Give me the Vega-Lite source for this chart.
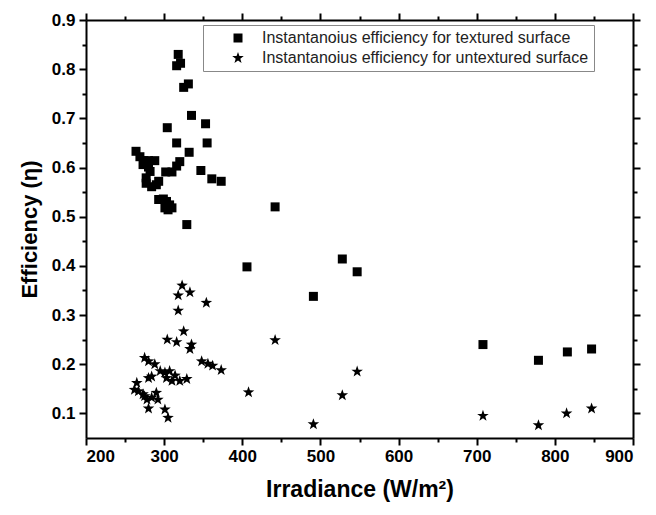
{
  "$schema": "https://vega.github.io/schema/vega-lite/v6.json",
  "width": 547,
  "height": 418,
  "autosize": "none",
  "padding": {"left": 86, "top": 20, "right": 23, "bottom": 77},
  "background": "white",
  "config": {
    "view": {"stroke": null},
    "font": "Liberation Sans",
    "axis": {
      "grid": false,
      "domainColor": "black",
      "domainWidth": 2,
      "tickColor": "black",
      "tickWidth": 2,
      "labelFont": "Liberation Sans",
      "labelFontWeight": "bold",
      "labelFontSize": 17,
      "labelColor": "black",
      "titleFont": "Liberation Sans",
      "titleFontWeight": "bold",
      "titleColor": "black"
    }
  },
  "data": {
    "values": [
      {"irradiance": 264, "efficiency": 0.633, "series": "Instantanoius efficiency for textured surface"},
      {"irradiance": 269, "efficiency": 0.622, "series": "Instantanoius efficiency for textured surface"},
      {"irradiance": 274, "efficiency": 0.614, "series": "Instantanoius efficiency for textured surface"},
      {"irradiance": 273, "efficiency": 0.606, "series": "Instantanoius efficiency for textured surface"},
      {"irradiance": 280, "efficiency": 0.614, "series": "Instantanoius efficiency for textured surface"},
      {"irradiance": 288, "efficiency": 0.614, "series": "Instantanoius efficiency for textured surface"},
      {"irradiance": 280, "efficiency": 0.601, "series": "Instantanoius efficiency for textured surface"},
      {"irradiance": 282, "efficiency": 0.592, "series": "Instantanoius efficiency for textured surface"},
      {"irradiance": 277, "efficiency": 0.579, "series": "Instantanoius efficiency for textured surface"},
      {"irradiance": 277, "efficiency": 0.568, "series": "Instantanoius efficiency for textured surface"},
      {"irradiance": 284, "efficiency": 0.561, "series": "Instantanoius efficiency for textured surface"},
      {"irradiance": 290, "efficiency": 0.565, "series": "Instantanoius efficiency for textured surface"},
      {"irradiance": 293, "efficiency": 0.572, "series": "Instantanoius efficiency for textured surface"},
      {"irradiance": 293, "efficiency": 0.535, "series": "Instantanoius efficiency for textured surface"},
      {"irradiance": 299, "efficiency": 0.536, "series": "Instantanoius efficiency for textured surface"},
      {"irradiance": 303, "efficiency": 0.531, "series": "Instantanoius efficiency for textured surface"},
      {"irradiance": 307, "efficiency": 0.524, "series": "Instantanoius efficiency for textured surface"},
      {"irradiance": 305, "efficiency": 0.514, "series": "Instantanoius efficiency for textured surface"},
      {"irradiance": 310, "efficiency": 0.518, "series": "Instantanoius efficiency for textured surface"},
      {"irradiance": 301, "efficiency": 0.518, "series": "Instantanoius efficiency for textured surface"},
      {"irradiance": 302, "efficiency": 0.591, "series": "Instantanoius efficiency for textured surface"},
      {"irradiance": 310, "efficiency": 0.591, "series": "Instantanoius efficiency for textured surface"},
      {"irradiance": 316, "efficiency": 0.603, "series": "Instantanoius efficiency for textured surface"},
      {"irradiance": 320, "efficiency": 0.612, "series": "Instantanoius efficiency for textured surface"},
      {"irradiance": 332, "efficiency": 0.631, "series": "Instantanoius efficiency for textured surface"},
      {"irradiance": 316, "efficiency": 0.650, "series": "Instantanoius efficiency for textured surface"},
      {"irradiance": 304, "efficiency": 0.681, "series": "Instantanoius efficiency for textured surface"},
      {"irradiance": 318, "efficiency": 0.830, "series": "Instantanoius efficiency for textured surface"},
      {"irradiance": 321, "efficiency": 0.812, "series": "Instantanoius efficiency for textured surface"},
      {"irradiance": 316, "efficiency": 0.807, "series": "Instantanoius efficiency for textured surface"},
      {"irradiance": 331, "efficiency": 0.770, "series": "Instantanoius efficiency for textured surface"},
      {"irradiance": 325, "efficiency": 0.763, "series": "Instantanoius efficiency for textured surface"},
      {"irradiance": 335, "efficiency": 0.706, "series": "Instantanoius efficiency for textured surface"},
      {"irradiance": 353, "efficiency": 0.689, "series": "Instantanoius efficiency for textured surface"},
      {"irradiance": 355, "efficiency": 0.650, "series": "Instantanoius efficiency for textured surface"},
      {"irradiance": 347, "efficiency": 0.594, "series": "Instantanoius efficiency for textured surface"},
      {"irradiance": 361, "efficiency": 0.577, "series": "Instantanoius efficiency for textured surface"},
      {"irradiance": 373, "efficiency": 0.572, "series": "Instantanoius efficiency for textured surface"},
      {"irradiance": 329, "efficiency": 0.484, "series": "Instantanoius efficiency for textured surface"},
      {"irradiance": 442, "efficiency": 0.520, "series": "Instantanoius efficiency for textured surface"},
      {"irradiance": 406, "efficiency": 0.398, "series": "Instantanoius efficiency for textured surface"},
      {"irradiance": 491, "efficiency": 0.338, "series": "Instantanoius efficiency for textured surface"},
      {"irradiance": 528, "efficiency": 0.414, "series": "Instantanoius efficiency for textured surface"},
      {"irradiance": 547, "efficiency": 0.388, "series": "Instantanoius efficiency for textured surface"},
      {"irradiance": 708, "efficiency": 0.240, "series": "Instantanoius efficiency for textured surface"},
      {"irradiance": 779, "efficiency": 0.208, "series": "Instantanoius efficiency for textured surface"},
      {"irradiance": 816, "efficiency": 0.225, "series": "Instantanoius efficiency for textured surface"},
      {"irradiance": 847, "efficiency": 0.231, "series": "Instantanoius efficiency for textured surface"},
      {"irradiance": 323, "efficiency": 0.360, "series": "Instantanoius efficiency for untextured surface"},
      {"irradiance": 318, "efficiency": 0.340, "series": "Instantanoius efficiency for untextured surface"},
      {"irradiance": 333, "efficiency": 0.346, "series": "Instantanoius efficiency for untextured surface"},
      {"irradiance": 354, "efficiency": 0.325, "series": "Instantanoius efficiency for untextured surface"},
      {"irradiance": 318, "efficiency": 0.309, "series": "Instantanoius efficiency for untextured surface"},
      {"irradiance": 325, "efficiency": 0.267, "series": "Instantanoius efficiency for untextured surface"},
      {"irradiance": 304, "efficiency": 0.250, "series": "Instantanoius efficiency for untextured surface"},
      {"irradiance": 316, "efficiency": 0.245, "series": "Instantanoius efficiency for untextured surface"},
      {"irradiance": 335, "efficiency": 0.240, "series": "Instantanoius efficiency for untextured surface"},
      {"irradiance": 333, "efficiency": 0.231, "series": "Instantanoius efficiency for untextured surface"},
      {"irradiance": 348, "efficiency": 0.206, "series": "Instantanoius efficiency for untextured surface"},
      {"irradiance": 356, "efficiency": 0.201, "series": "Instantanoius efficiency for untextured surface"},
      {"irradiance": 362, "efficiency": 0.197, "series": "Instantanoius efficiency for untextured surface"},
      {"irradiance": 373, "efficiency": 0.188, "series": "Instantanoius efficiency for untextured surface"},
      {"irradiance": 275, "efficiency": 0.213, "series": "Instantanoius efficiency for untextured surface"},
      {"irradiance": 280, "efficiency": 0.206, "series": "Instantanoius efficiency for untextured surface"},
      {"irradiance": 288, "efficiency": 0.200, "series": "Instantanoius efficiency for untextured surface"},
      {"irradiance": 295, "efficiency": 0.186, "series": "Instantanoius efficiency for untextured surface"},
      {"irradiance": 280, "efficiency": 0.172, "series": "Instantanoius efficiency for untextured surface"},
      {"irradiance": 284, "efficiency": 0.175, "series": "Instantanoius efficiency for untextured surface"},
      {"irradiance": 301, "efficiency": 0.183, "series": "Instantanoius efficiency for untextured surface"},
      {"irradiance": 307, "efficiency": 0.186, "series": "Instantanoius efficiency for untextured surface"},
      {"irradiance": 303, "efficiency": 0.172, "series": "Instantanoius efficiency for untextured surface"},
      {"irradiance": 310, "efficiency": 0.166, "series": "Instantanoius efficiency for untextured surface"},
      {"irradiance": 320, "efficiency": 0.166, "series": "Instantanoius efficiency for untextured surface"},
      {"irradiance": 329, "efficiency": 0.170, "series": "Instantanoius efficiency for untextured surface"},
      {"irradiance": 314, "efficiency": 0.177, "series": "Instantanoius efficiency for untextured surface"},
      {"irradiance": 265, "efficiency": 0.162, "series": "Instantanoius efficiency for untextured surface"},
      {"irradiance": 267, "efficiency": 0.145, "series": "Instantanoius efficiency for untextured surface"},
      {"irradiance": 273, "efficiency": 0.139, "series": "Instantanoius efficiency for untextured surface"},
      {"irradiance": 278, "efficiency": 0.128, "series": "Instantanoius efficiency for untextured surface"},
      {"irradiance": 284, "efficiency": 0.132, "series": "Instantanoius efficiency for untextured surface"},
      {"irradiance": 290, "efficiency": 0.142, "series": "Instantanoius efficiency for untextured surface"},
      {"irradiance": 292, "efficiency": 0.128, "series": "Instantanoius efficiency for untextured surface"},
      {"irradiance": 280, "efficiency": 0.110, "series": "Instantanoius efficiency for untextured surface"},
      {"irradiance": 301, "efficiency": 0.108, "series": "Instantanoius efficiency for untextured surface"},
      {"irradiance": 305, "efficiency": 0.091, "series": "Instantanoius efficiency for untextured surface"},
      {"irradiance": 262, "efficiency": 0.148, "series": "Instantanoius efficiency for untextured surface"},
      {"irradiance": 275, "efficiency": 0.135, "series": "Instantanoius efficiency for untextured surface"},
      {"irradiance": 442, "efficiency": 0.249, "series": "Instantanoius efficiency for untextured surface"},
      {"irradiance": 408, "efficiency": 0.143, "series": "Instantanoius efficiency for untextured surface"},
      {"irradiance": 491, "efficiency": 0.078, "series": "Instantanoius efficiency for untextured surface"},
      {"irradiance": 528, "efficiency": 0.137, "series": "Instantanoius efficiency for untextured surface"},
      {"irradiance": 547, "efficiency": 0.185, "series": "Instantanoius efficiency for untextured surface"},
      {"irradiance": 708, "efficiency": 0.095, "series": "Instantanoius efficiency for untextured surface"},
      {"irradiance": 779, "efficiency": 0.076, "series": "Instantanoius efficiency for untextured surface"},
      {"irradiance": 815, "efficiency": 0.100, "series": "Instantanoius efficiency for untextured surface"},
      {"irradiance": 847, "efficiency": 0.110, "series": "Instantanoius efficiency for untextured surface"}
    ]
  },
  "resolve": {"axis": {"x": "independent", "y": "independent"}},
  "layer": [
    {
      "mark": {"type": "point", "filled": true, "opacity": 1, "size": 81, "color": "black", "strokeWidth": 0},
      "encoding": {
        "x": {"field": "irradiance", "type": "quantitative", "scale": {"domain": [200, 900], "nice": false, "zero": false},
          "axis": {"orient": "bottom", "values": [200, 300, 400, 500, 600, 700, 800, 900], "tickSize": 7, "labelPadding": 3, "title": "Irradiance (W/m²)", "titleFontSize": 23, "titlePadding": 14}},
        "y": {"field": "efficiency", "type": "quantitative", "scale": {"domain": [0.05, 0.9], "nice": false, "zero": false},
          "axis": {"orient": "left", "values": [0.1, 0.2, 0.3, 0.4, 0.5, 0.6, 0.7, 0.8, 0.9], "format": ".1f", "tickSize": 7, "labelPadding": 4, "title": "Efficiency (η)", "titleFontSize": 22, "titlePadding": 10}},
        "shape": {"field": "series", "type": "nominal",
          "scale": {"domain": ["Instantanoius efficiency for textured surface", "Instantanoius efficiency for untextured surface"],
                    "range": ["square", "M0,-1.35L0.317,-0.437L1.284,-0.417L0.513,0.167L0.794,1.092L0,0.54L-0.794,1.092L-0.513,0.167L-1.284,-0.417L-0.317,-0.437Z"]},
          "legend": {"orient": "none", "legendX": 117, "legendY": 5, "title": null, "strokeColor": "#888888", "fillColor": "white", "padding": 5,
            "labelFont": "Liberation Sans", "labelFontSize": 16, "labelColor": "#222222", "labelLimit": 500, "symbolFillColor": "black", "symbolStrokeWidth": 0, "symbolSize": 81,
            "symbolOffset": 22, "labelOffset": 16, "rowPadding": 4}}
      }
    },
    {
      "mark": {"type": "point", "opacity": 0},
      "encoding": {
        "x": {"field": "irradiance", "type": "quantitative", "axis": {"orient": "top", "values": [200, 300, 400, 500, 600, 700, 800, 900], "tickSize": 7, "labels": false, "title": null}},
        "y": {"field": "efficiency", "type": "quantitative", "axis": {"orient": "right", "values": [0.1, 0.2, 0.3, 0.4, 0.5, 0.6, 0.7, 0.8, 0.9], "tickSize": 7, "labels": false, "title": null}}
      }
    },
    {
      "mark": {"type": "point", "opacity": 0},
      "encoding": {
        "x": {"field": "irradiance", "type": "quantitative", "axis": {"orient": "bottom", "values": [250, 350, 450, 550, 650, 750, 850], "tickSize": 4, "labels": false, "domain": false, "title": null}},
        "y": {"field": "efficiency", "type": "quantitative", "axis": {"orient": "left", "values": [0.15, 0.25, 0.35, 0.45, 0.55, 0.65, 0.75, 0.85], "tickSize": 4, "labels": false, "domain": false, "title": null}}
      }
    },
    {
      "mark": {"type": "point", "opacity": 0},
      "encoding": {
        "x": {"field": "irradiance", "type": "quantitative", "axis": {"orient": "top", "values": [250, 350, 450, 550, 650, 750, 850], "tickSize": 4, "labels": false, "domain": false, "title": null}},
        "y": {"field": "efficiency", "type": "quantitative", "axis": {"orient": "right", "values": [0.15, 0.25, 0.35, 0.45, 0.55, 0.65, 0.75, 0.85], "tickSize": 4, "labels": false, "domain": false, "title": null}}
      }
    }
  ]
}
